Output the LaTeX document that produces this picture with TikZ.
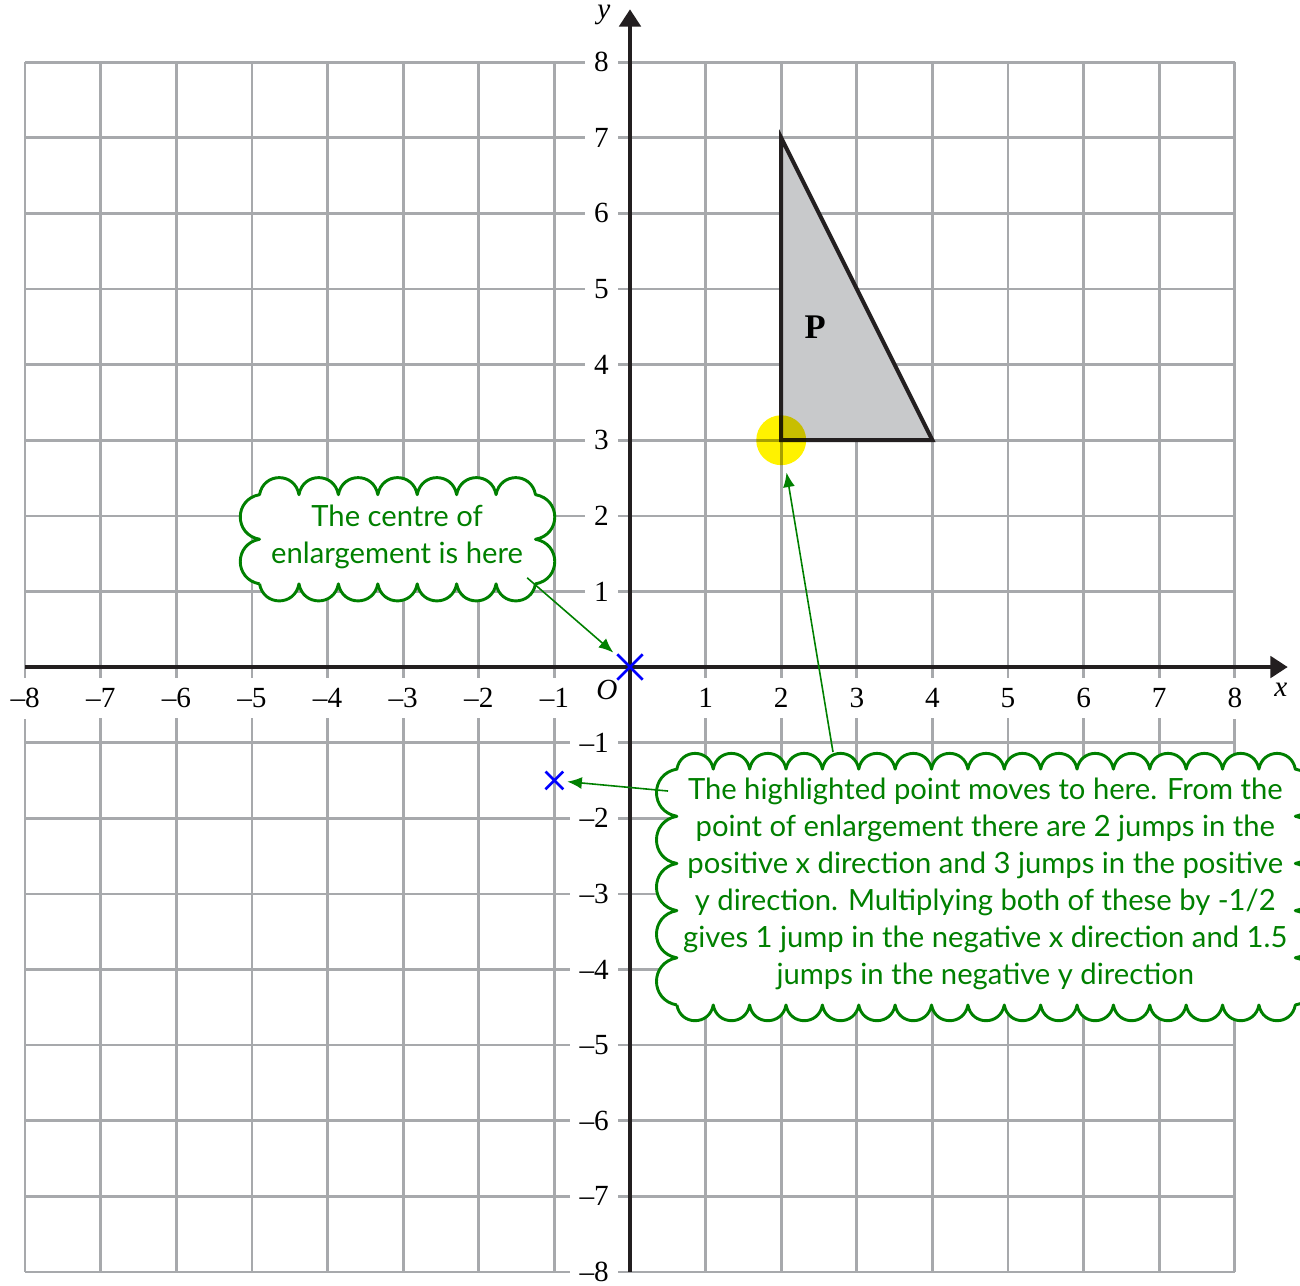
\documentclass[tikz,border=0pt]{standalone}
\usepackage{fontspec}
\setmainfont{Liberation Serif}
\newfontfamily\cloudfont{Lato}
\usetikzlibrary{arrows.meta,shapes.misc}
\definecolor{gridgray}{HTML}{A7A9AC}
\definecolor{axisblack}{HTML}{231F20}
\definecolor{trigray}{HTML}{C8C9CB}
\definecolor{cgreen}{RGB}{0,128,0}
\newcommand\cloudpath[6]{%
  (#1,#2) foreach \i in {1,...,#6} { to[bump] (#1,{#2+\i*(#4-#2)/#6}) }
  foreach \i in {1,...,#5} { to[bump] ({#1+\i*(#3-#1)/#5},#4) }
  foreach \i in {1,...,#6} { to[bump] (#3,{#4-\i*(#4-#2)/#6}) }
  foreach \i in {1,...,#5} { to[bump] ({#3-\i*(#3-#1)/#5},#2) }}
\tikzset{
  gridline/.style={gridgray, line width=1pt},
  axisline/.style={axisblack, line width=1.5pt, -{Triangle[length=6.5pt,width=8pt]}},
  numfont/.style={font=\fontsize{11}{13}\selectfont},
  ylab/.style={numfont, anchor=east, fill=white, inner xsep=3.5pt, inner ysep=1pt},
  xlab/.style={numfont, fill=white, inner xsep=1.5pt, inner ysep=4pt},
  bump/.style={bend left=80, looseness=1.5},
  cloudline/.style={draw=cgreen, line width=1.1pt, fill=white, line join=round},
  cloudtext/.style={text=cgreen, align=center, font=\cloudfont\fontsize{11}{13.9}\selectfont},
  callout/.style={cgreen, line width=0.6pt, -{Latex[length=5.5pt,width=4.5pt]}},
  xmark/.style={draw=blue, cross out, line width=1pt, inner sep=0pt},
}
\begin{document}
\begin{tikzpicture}
\useasboundingbox (-8.333,-8.175) rectangle (8.862,8.823);
% grid
\draw[gridline] (-8,-8) grid (8,8);
% tick labels
\foreach \i in {1,...,8} {
  \node[ylab] (yl\i) at (-0.15,\i) {\i};
  \node[ylab] (yln\i) at (-0.15,-\i) {–\i};
  \node[xlab] (xl\i) at (\i,-0.41) {\i};
  \node[xlab] (xln\i) at (-\i,-0.41) {–\i};
}
% axes
\draw[axisline] (-8,0) -- (8.7,0);
\draw[axisline] (0,-8) -- (0,8.7);
\node[numfont] (xlabel) at (8.61,-0.30) {\textit{x}};
\node[numfont] (ylabel) at (-0.344,8.62) {\textit{y}};
\node[numfont] (olabel) at (-0.304,-0.304) {\textit{O}};
% triangle P
\filldraw[fill=trigray, draw=axisblack, line width=1.5pt, line join=miter] (2,3) -- (2,7) -- (4,3) -- cycle;
\node[font=\bfseries\fontsize{13}{15}\selectfont] (P) at (2.45,4.5) {P};
% highlight
\begin{scope}[blend mode=multiply]
\node[circle, fill=yellow, minimum size=0.66cm, inner sep=0pt] (hl) at (2,3) {};
\end{scope}
% crosses
\node[xmark, minimum size=0.3cm] (O) at (0,0) {};
\node[xmark, minimum size=0.2cm] (img) at (-1,-1.5) {};
% clouds
\filldraw[cloudline] \cloudpath{-4.9}{1.1}{-1.25}{2.28}{7}{2};
\node[cloudtext] (c1) at (-3.08,1.72) {The centre of\\enlargement is here};
\filldraw[cloudline] \cloudpath{0.62}{-4.47}{8.8}{-1.35}{17}{5};
\node[cloudtext] (c2) at (4.70,-2.87) {The highlighted point moves to here. From the\\
point of enlargement there are 2 jumps in the\\
positive x direction and 3 jumps in the positive\\
y direction. Multiplying both of these by -1/2\\
gives 1 jump in the negative x direction and 1.5\\
jumps in the negative y direction};
% connectors
\coordinate (c1tail) at (-1.36,1.18);
\coordinate (c2top) at (2.685,-1.124);
\coordinate (c2left) at (0.503,-1.640);
\draw[callout, shorten >=2pt] (c1tail) -- (O);
\draw[callout, shorten >=2.7pt] (c2top) -- (hl);
\draw[callout, shorten >=1.5pt] (c2left) -- (img);
\end{tikzpicture}
\end{document}
